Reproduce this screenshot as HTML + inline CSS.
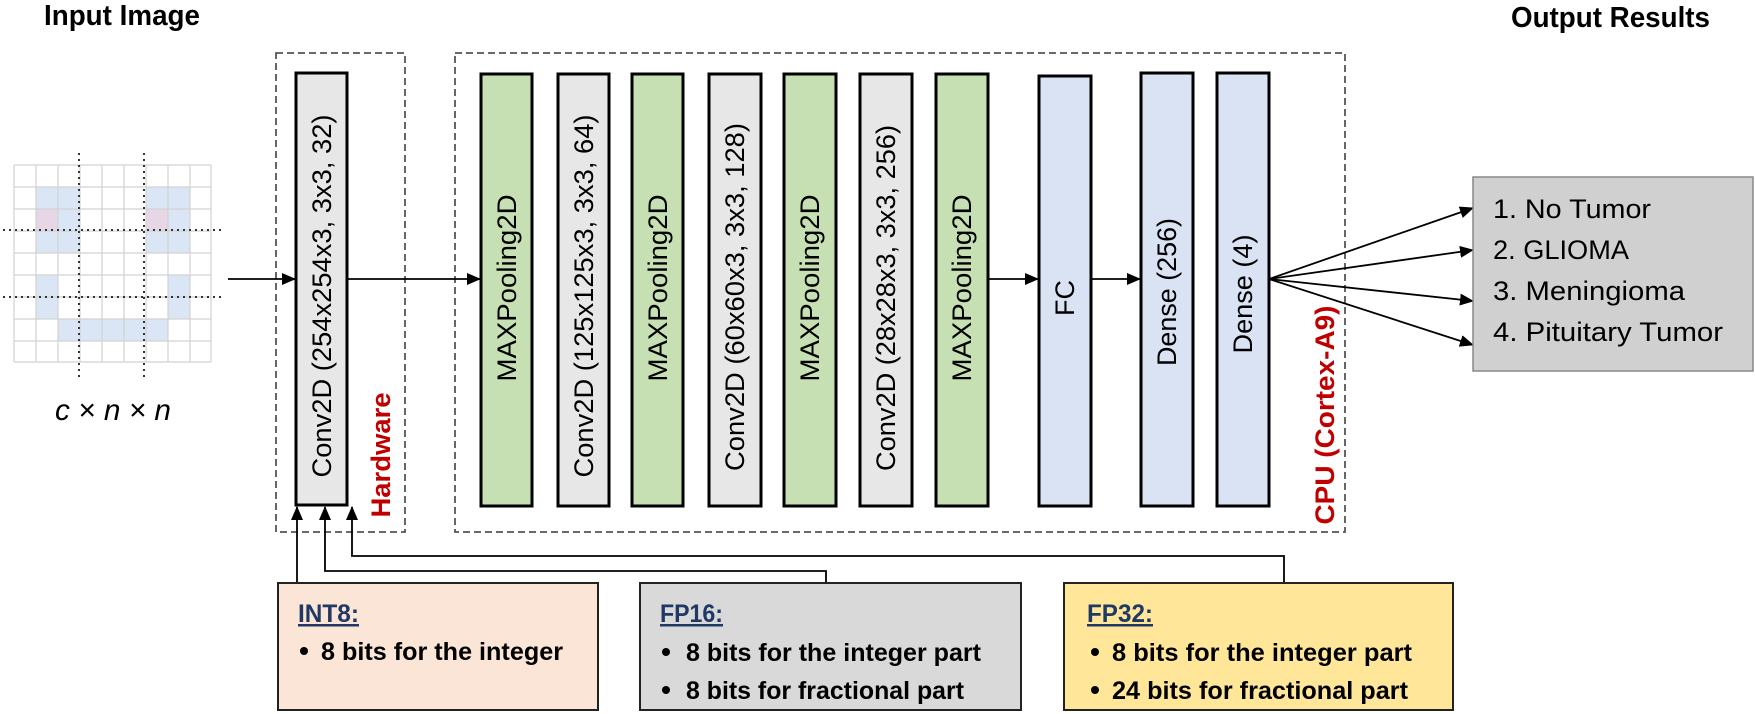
<!DOCTYPE html>
<html><head><meta charset="utf-8"><style>
html,body{margin:0;padding:0;background:#fff;}
svg{display:block;}
text{font-family:"Liberation Sans",sans-serif;}
</style></head><body>
<svg width="1755" height="714" viewBox="0 0 1755 714" xmlns="http://www.w3.org/2000/svg">
<defs>
<marker id="ah" markerWidth="14" markerHeight="12" refX="13" refY="6" orient="auto" markerUnits="userSpaceOnUse">
<path d="M0,0 L14,6 L0,12 z" fill="#000"/></marker>
</defs>

<!-- titles -->
<text x="44" y="25" font-size="29" font-weight="bold" textLength="156" lengthAdjust="spacingAndGlyphs">Input Image</text>
<text x="1511" y="27" font-size="29" font-weight="bold" textLength="199" lengthAdjust="spacingAndGlyphs">Output Results</text>

<!-- grid -->
<g>
<g fill="#dae6f5">
<rect x="36" y="187" width="44" height="22"/><rect x="146" y="187" width="44" height="22"/>
<rect x="58" y="209" width="22" height="22"/><rect x="168" y="209" width="22" height="22"/>
<rect x="36" y="231" width="44" height="22"/><rect x="146" y="231" width="44" height="22"/>
<rect x="36" y="275" width="22" height="44"/><rect x="168" y="275" width="22" height="44"/>
<rect x="58" y="319" width="110" height="22"/>
</g>
<g fill="#e6d6e6"><rect x="36" y="209" width="22" height="22"/><rect x="146" y="209" width="22" height="22"/></g>
<g stroke="#d2d2d2" stroke-width="1.2" fill="none">
<path d="M14,165V362M36,165V362M58,165V362M80,165V362M102,165V362M124,165V362M146,165V362M168,165V362M190,165V362M211,165V362"/>
<path d="M14,165H211M14,187H211M14,209H211M14,231H211M14,253H211M14,275H211M14,297H211M14,319H211M14,341H211M14,362H211"/>
</g>
<g stroke="#333" stroke-width="2" stroke-dasharray="2 4" fill="none">
<path d="M79,153V377M144,153V377M3,230H222M3,297H222"/>
</g>
</g>
<text x="55" y="420" font-size="30" font-family="Liberation Serif,serif" font-style="italic" textLength="116" lengthAdjust="spacingAndGlyphs">c × n × n</text>

<!-- dashed groups -->
<rect x="276" y="53" width="129" height="479" fill="none" stroke="#555" stroke-width="1.8" stroke-dasharray="7 4"/>
<rect x="455" y="53" width="890" height="479" fill="none" stroke="#555" stroke-width="1.8" stroke-dasharray="7 4"/>

<!-- layer boxes -->
<g stroke="#000" stroke-width="3">
<rect x="296" y="73" width="51" height="432" fill="#e7e7e7"/>
<rect x="481" y="74" width="51" height="432" fill="#c6e0b4"/>
<rect x="558" y="74" width="51" height="432" fill="#e7e7e7"/>
<rect x="632" y="74" width="51" height="432" fill="#c6e0b4"/>
<rect x="709" y="74" width="52" height="432" fill="#e7e7e7"/>
<rect x="784" y="74" width="52" height="432" fill="#c6e0b4"/>
<rect x="860" y="74" width="52" height="432" fill="#e7e7e7"/>
<rect x="936" y="74" width="52" height="432" fill="#c6e0b4"/>
<rect x="1039" y="76" width="52" height="430" fill="#dae3f3"/>
<rect x="1141" y="73" width="52" height="433" fill="#dae3f3"/>
<rect x="1217" y="73" width="52" height="433" fill="#dae3f3"/>
</g>

<!-- vertical labels -->
<g font-size="27" text-anchor="middle" fill="#000">
<text transform="translate(331,296) rotate(-90)" textLength="363" lengthAdjust="spacingAndGlyphs">Conv2D (254x254x3, 3x3, 32)</text>
<text transform="translate(516,288) rotate(-90)" textLength="187" lengthAdjust="spacingAndGlyphs">MAXPooling2D</text>
<text transform="translate(593,296) rotate(-90)" textLength="363" lengthAdjust="spacingAndGlyphs">Conv2D (125x125x3, 3x3, 64)</text>
<text transform="translate(667,288) rotate(-90)" textLength="187" lengthAdjust="spacingAndGlyphs">MAXPooling2D</text>
<text transform="translate(744,297) rotate(-90)" textLength="348" lengthAdjust="spacingAndGlyphs">Conv2D (60x60x3, 3x3, 128)</text>
<text transform="translate(819,288) rotate(-90)" textLength="187" lengthAdjust="spacingAndGlyphs">MAXPooling2D</text>
<text transform="translate(895,298) rotate(-90)" textLength="346" lengthAdjust="spacingAndGlyphs">Conv2D (28x28x3, 3x3, 256)</text>
<text transform="translate(971,288) rotate(-90)" textLength="187" lengthAdjust="spacingAndGlyphs">MAXPooling2D</text>
<text transform="translate(1074,298) rotate(-90)">FC</text>
<text transform="translate(1176,292) rotate(-90)" textLength="148" lengthAdjust="spacingAndGlyphs">Dense (256)</text>
<text transform="translate(1252,294) rotate(-90)" textLength="119" lengthAdjust="spacingAndGlyphs">Dense (4)</text>
</g>
<g font-size="27" font-weight="bold" fill="#c00000" text-anchor="middle">
<text transform="translate(390,455) rotate(-90)" textLength="125" lengthAdjust="spacingAndGlyphs">Hardware</text>
<text transform="translate(1334,415) rotate(-90)" textLength="219" lengthAdjust="spacingAndGlyphs">CPU (Cortex-A9)</text>
</g>

<!-- connectors -->
<g stroke="#000" stroke-width="1.8" fill="none" marker-end="url(#ah)">
<path d="M228,279H295"/>
<path d="M347,279H480"/>
<path d="M988,279H1038"/>
<path d="M1091,279H1140"/>
<path d="M1269,279L1473,208"/>
<path d="M1269,279L1473,250"/>
<path d="M1269,279L1473,301"/>
<path d="M1269,279L1473,345"/>
<path d="M297,583V507"/>
<path d="M826,583V571H325V507"/>
<path d="M1284,583V556H352V507"/>
</g>

<!-- output box -->
<rect x="1473" y="177" width="280" height="194" fill="#d0d0d0" stroke="#888" stroke-width="1.5"/>
<g font-size="27" fill="#000">
<text x="1493" y="218" textLength="158" lengthAdjust="spacingAndGlyphs">1. No Tumor</text>
<text x="1493" y="259" textLength="136" lengthAdjust="spacingAndGlyphs">2. GLIOMA</text>
<text x="1493" y="300" textLength="192" lengthAdjust="spacingAndGlyphs">3. Meningioma</text>
<text x="1493" y="341" textLength="230" lengthAdjust="spacingAndGlyphs">4. Pituitary Tumor</text>
</g>

<!-- precision boxes -->
<rect x="278" y="583" width="320" height="127" fill="#fbe5d6" stroke="#222" stroke-width="2"/>
<rect x="640" y="583" width="381" height="127" fill="#d9d9d9" stroke="#222" stroke-width="2"/>
<rect x="1064" y="583" width="389" height="127" fill="#ffe699" stroke="#222" stroke-width="2"/>
<g font-size="25" font-weight="bold">
<text x="298" y="622" fill="#1f3864" text-decoration="underline" textLength="61" lengthAdjust="spacingAndGlyphs">INT8:</text>
<circle cx="304" cy="651" r="4"/>
<text x="321" y="660" textLength="242" lengthAdjust="spacingAndGlyphs">8 bits for the integer</text>

<text x="660" y="622" fill="#1f3864" text-decoration="underline" textLength="63" lengthAdjust="spacingAndGlyphs">FP16:</text>
<circle cx="666" cy="652" r="4"/>
<text x="686" y="661" textLength="295" lengthAdjust="spacingAndGlyphs">8 bits for the integer part</text>
<circle cx="666" cy="690" r="4"/>
<text x="686" y="699" textLength="278" lengthAdjust="spacingAndGlyphs">8 bits for fractional part</text>

<text x="1087" y="622" fill="#1f3864" text-decoration="underline" textLength="66" lengthAdjust="spacingAndGlyphs">FP32:</text>
<circle cx="1095" cy="652" r="4"/>
<text x="1112" y="661" textLength="300" lengthAdjust="spacingAndGlyphs">8 bits for the integer part</text>
<circle cx="1095" cy="690" r="4"/>
<text x="1112" y="699" textLength="296" lengthAdjust="spacingAndGlyphs">24 bits for fractional part</text>
</g>
</svg>
</body></html>
